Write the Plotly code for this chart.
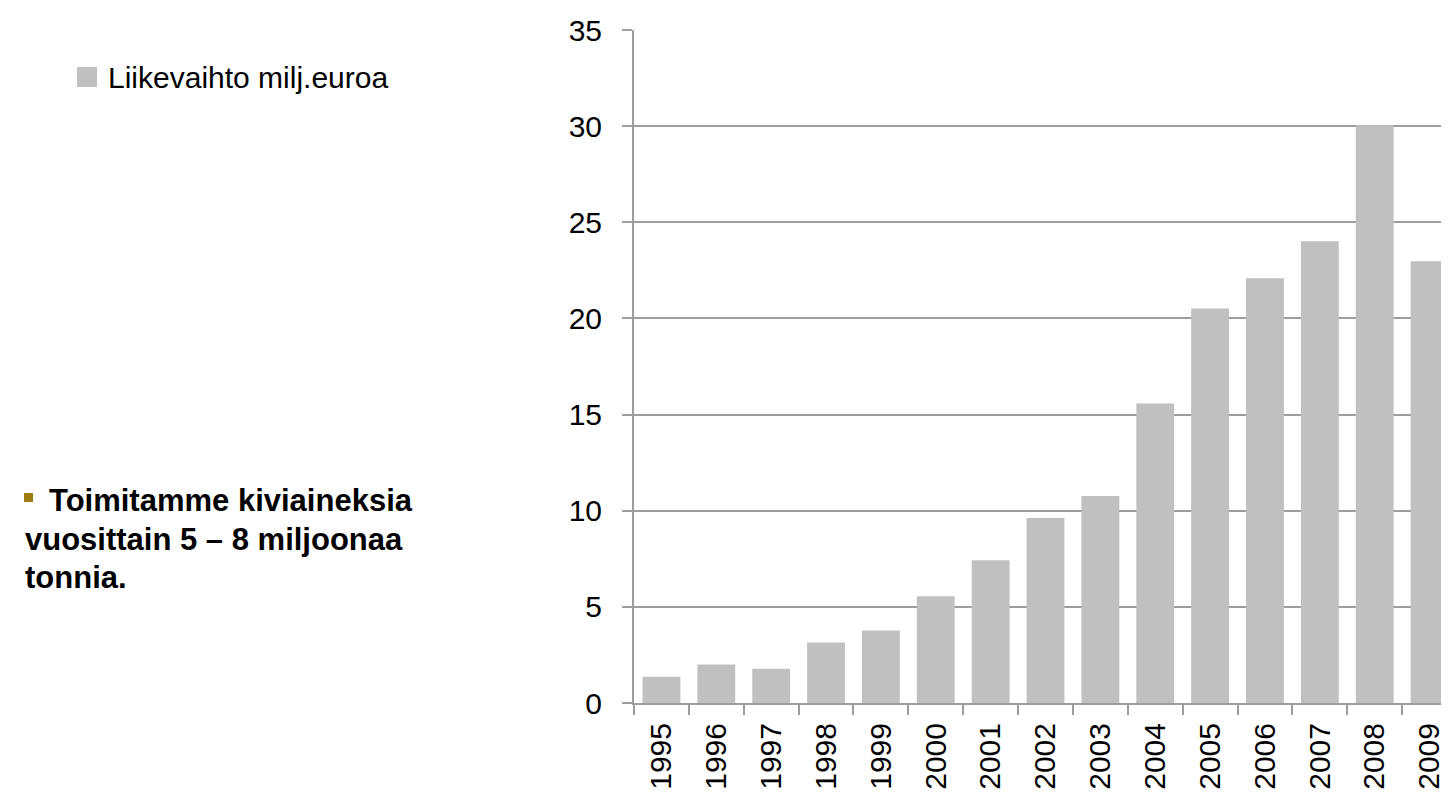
import plotly.graph_objects as go

years = ["1995", "1996", "1997", "1998", "1999", "2000", "2001", "2002",
         "2003", "2004", "2005", "2006", "2007", "2008", "2009"]
revenue = [1.37, 2.0, 1.78, 3.15, 3.77, 5.55, 7.43, 9.62,
           10.77, 15.58, 20.52, 22.09, 24.02, 30.05, 22.97]
series_name = "Liikevaihto milj.euroa"
note_lines = ["Toimitamme kiviaineksia", "vuosittain 5 – 8 miljoonaa", "tonnia."]
y_ticks = [0, 5, 10, 15, 20, 25, 30, 35]

W, H = 1449, 793
L, R, T, B = 626, 0, 22, 98
PW, PH = W - L - R, H - T - B

def px(x):
    return (x - L) / PW

def py(y):
    return (H - B - y) / PH

FONT = "Liberation Sans, Arial, sans-serif"
GRID = "#9d9d9d"
BAR = "#c0c0c0"

fig = go.Figure(go.Bar(x=years, y=revenue, name=series_name,
                       marker=dict(color=BAR, line=dict(width=0)),
                       showlegend=False))

fig.update_layout(
    width=W, height=H,
    margin=dict(l=L, r=R, t=T, b=B, pad=0),
    paper_bgcolor="white", plot_bgcolor="white",
    bargap=0.31,
    font=dict(family=FONT, size=30, color="black"),
    xaxis=dict(type="category", tickangle=-90, ticks="outside", tickson="boundaries",
               ticklen=10, tickwidth=2, tickcolor=GRID, showline=True, linecolor=GRID,
               linewidth=2, showgrid=False, tickfont=dict(size=30, family=FONT),
               ticklabelstandoff=6),
    yaxis=dict(range=[0, 35], tickvals=y_ticks, ticks="outside", ticklen=10,
               tickwidth=2, tickcolor=GRID, showline=True, linecolor=GRID, linewidth=2,
               showgrid=True, gridcolor=GRID, gridwidth=2, zeroline=False,
               tickfont=dict(size=30, family=FONT), ticklabelstandoff=14),
)

# legend (manual, sized like the reference)
fig.add_shape(type="rect", xref="paper", yref="paper",
              x0=px(69), x1=px(89), y0=py(79), y1=py(59),
              fillcolor=BAR, line=dict(width=0))
fig.add_annotation(xref="paper", yref="paper", x=px(98), y=py(70),
                   xanchor="left", yanchor="middle", showarrow=False,
                   text=series_name, font=dict(size=30, family=FONT, color="black"))

# bullet note
fig.add_shape(type="rect", xref="paper", yref="paper",
              x0=px(16), x1=px(25), y0=py(494), y1=py(485),
              fillcolor="#a07c10", line=dict(width=0))
line_y = [493, 531, 569]
line_x = [39, 15, 15]
for txt, lx, ly in zip(note_lines, line_x, line_y):
    fig.add_annotation(xref="paper", yref="paper", x=px(lx), y=py(ly),
                       xanchor="left", yanchor="middle", showarrow=False,
                       text="<b>" + txt + "</b>",
                       font=dict(size=31, family=FONT, color="black"))

fig.write_html("out.html")
